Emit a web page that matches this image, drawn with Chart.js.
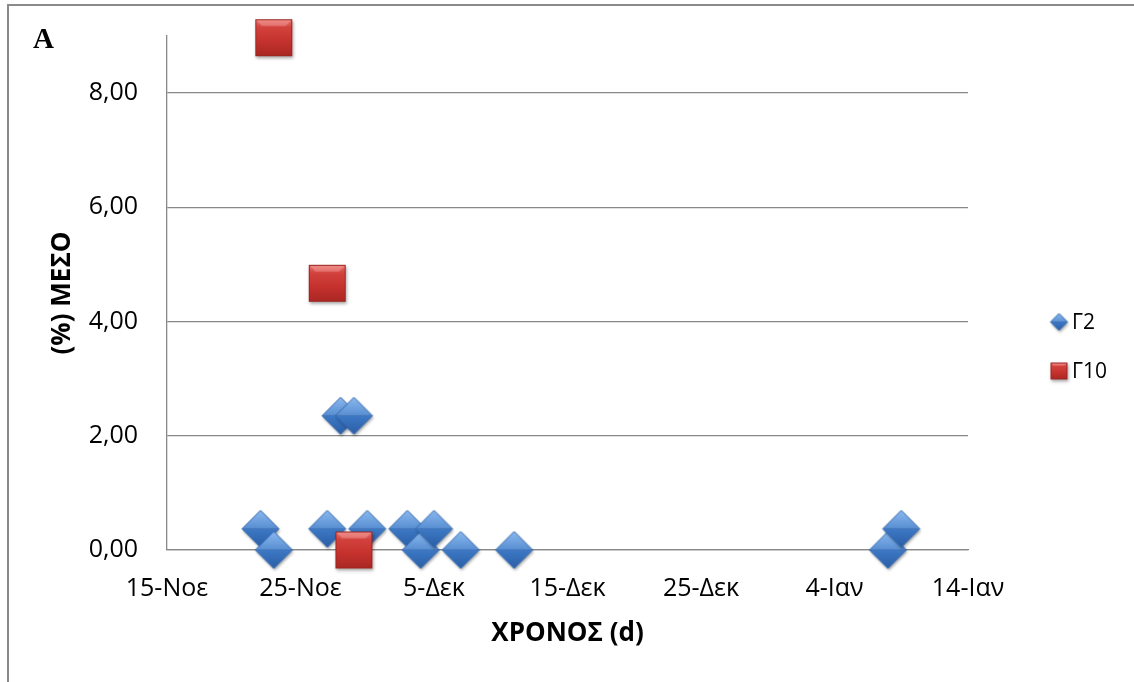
<!DOCTYPE html>
<html>
<head>
<meta charset="utf-8">
<script src="https://cdn.jsdelivr.net/npm/chart.js@4"></script>
<style>
  html, body { margin: 0; padding: 0; background: #ffffff; }
  #wrap { width: 1134px; height: 682px; }
</style>
</head>
<body>
<div id="wrap"><canvas id="chart" width="1134" height="682"></canvas></div>
<script>
// Day offsets are counted from 15 November.
const tickDays = [0, 10, 20, 30, 40, 50, 60];
const tickLabels = ['15-Νοε', '25-Νοε', '5-Δεκ', '15-Δεκ', '25-Δεκ', '4-Ιαν', '14-Ιαν'];
const yTicks = [0, 2, 4, 6, 8];

const g2Days   = [7, 8, 12, 13, 14, 15, 18, 19, 20, 22, 26, 54, 55];
const g2Values = [0.37, 0, 0.37, 2.35, 2.35, 0.37, 0.37, 0, 0.37, 0, 0, 0, 0.37];

const g10Days   = [8, 12, 14];
const g10Values = [8.97, 4.67, 0];

const seriesNames = ['Γ2', 'Γ10'];

const FONT = "'Open Sans', 'Noto Sans', sans-serif";

// Bevelled marker sprites
function makeDiamond(size) {
  const pad = 5;
  const c = document.createElement('canvas');
  c.width = size + pad * 2; c.height = size + pad * 2;
  const g = c.getContext('2d');
  const cx = c.width / 2, cy = c.height / 2, h = size / 2;
  g.save();
  g.shadowColor = 'rgba(0,0,0,0.35)';
  g.shadowBlur = 3; g.shadowOffsetX = 1; g.shadowOffsetY = 2;
  g.beginPath();
  g.moveTo(cx, cy - h); g.lineTo(cx + h, cy); g.lineTo(cx, cy + h); g.lineTo(cx - h, cy); g.closePath();
  const grd = g.createLinearGradient(0, cy - h, 0, cy + h);
  grd.addColorStop(0, '#7fb2ee');
  grd.addColorStop(0.45, '#4a86d0');
  grd.addColorStop(0.55, '#3b76c2');
  grd.addColorStop(1, '#2b5ea6');
  g.fillStyle = grd; g.fill();
  g.restore();
  // facets
  g.beginPath();
  g.moveTo(cx - h, cy); g.lineTo(cx, cy - h); g.lineTo(cx + h, cy); g.closePath();
  g.fillStyle = 'rgba(255,255,255,0.10)'; g.fill();
  g.beginPath();
  g.moveTo(cx - h, cy); g.lineTo(cx + h, cy);
  g.strokeStyle = 'rgba(40,80,150,0.35)'; g.lineWidth = 1; g.stroke();
  g.beginPath();
  g.moveTo(cx, cy - h); g.lineTo(cx + h, cy); g.lineTo(cx, cy + h); g.lineTo(cx - h, cy); g.closePath();
  g.strokeStyle = '#3167ad'; g.lineWidth = 1; g.stroke();
  return c;
}

function makeSquare(size) {
  const pad = 5;
  const c = document.createElement('canvas');
  c.width = size + pad * 2; c.height = size + pad * 2;
  const g = c.getContext('2d');
  const x0 = pad, y0 = pad;
  g.save();
  g.shadowColor = 'rgba(0,0,0,0.35)';
  g.shadowBlur = 3; g.shadowOffsetX = 1; g.shadowOffsetY = 2;
  const grd = g.createLinearGradient(0, y0, 0, y0 + size);
  grd.addColorStop(0, '#e8736f');
  grd.addColorStop(0.22, '#d2423d');
  grd.addColorStop(0.6, '#c5322e');
  grd.addColorStop(1, '#a92723');
  g.fillStyle = grd;
  g.fillRect(x0, y0, size, size);
  g.restore();
  // top bevel highlight
  const hb = Math.max(2, size * 0.18);
  g.beginPath();
  g.moveTo(x0, y0); g.lineTo(x0 + size, y0); g.lineTo(x0 + size - hb, y0 + hb); g.lineTo(x0 + hb, y0 + hb); g.closePath();
  g.fillStyle = 'rgba(255,190,185,0.35)'; g.fill();
  g.strokeStyle = '#9b2521'; g.lineWidth = 1;
  g.strokeRect(x0 + 0.5, y0 + 0.5, size - 1, size - 1);
  return c;
}

const diamondBig = makeDiamond(37);
const squareBig = makeSquare(37);
const diamondSmall = makeDiamond(17);
const squareSmall = makeSquare(17);

const g2Points = g2Days.map((d, i) => ({ x: d, y: g2Values[i] }));
const g10Points = g10Days.map((d, i) => ({ x: d, y: g10Values[i] }));

// White page, outer frame and panel letter
const framePlugin = {
  id: 'frame',
  beforeDraw(chart) {
    const ctx = chart.ctx;
    ctx.save();
    ctx.fillStyle = '#ffffff';
    ctx.fillRect(0, 0, chart.width, chart.height);
    ctx.strokeStyle = '#8a8a8a';
    ctx.lineWidth = 2;
    ctx.beginPath();
    ctx.moveTo(chart.width, 5);
    ctx.lineTo(8, 5);
    ctx.lineTo(8, chart.height);
    ctx.stroke();
    ctx.fillStyle = '#000000';
    ctx.font = "bold 29px 'Liberation Serif', 'Times New Roman', serif";
    ctx.textBaseline = 'alphabetic';
    ctx.textAlign = 'left';
    ctx.fillText('A', 33, 48);
    ctx.restore();
  }
};

// Legend at the right of the plot
const legendPlugin = {
  id: 'sideLegend',
  afterDraw(chart) {
    const ctx = chart.ctx;
    const icons = [diamondSmall, squareSmall];
    const rows = [322, 371];
    ctx.save();
    ctx.font = '21px ' + FONT;
    ctx.fillStyle = '#000000';
    ctx.textBaseline = 'middle';
    ctx.textAlign = 'left';
    chart.data.datasets.forEach((ds, i) => {
      const img = icons[i];
      ctx.drawImage(img, 1059 - img.width / 2, rows[i] - img.height / 2);
      ctx.fillText(ds.label, 1072, rows[i] + 1);
    });
    ctx.restore();
  }
};

new Chart(document.getElementById('chart'), {
  type: 'scatter',
  data: {
    datasets: [
      {
        label: seriesNames[0],
        data: g2Points,
        pointStyle: diamondBig,
        pointRadius: 18,
        pointHoverRadius: 18,
        clip: false,
        order: 1
      },
      {
        label: seriesNames[1],
        data: g10Points,
        pointStyle: squareBig,
        pointRadius: 18,
        pointHoverRadius: 18,
        clip: false,
        order: 0
      }
    ]
  },
  options: {
    responsive: false,
    animation: false,
    layout: { padding: { top: 36, right: 166, bottom: 0, left: 0 } },
    plugins: {
      legend: { display: false },
      tooltip: { enabled: false }
    },
    scales: {
      x: {
        type: 'linear',
        min: tickDays[0],
        max: tickDays[tickDays.length - 1],
        afterBuildTicks(scale) { scale.ticks = tickDays.map(v => ({ value: v })); },
        afterFit(scale) { scale.height = 132; scale.paddingLeft = 0; scale.paddingRight = 0; },
        grid: { display: false, drawTicks: false },
        border: { display: true, color: '#888888', width: 1.3 },
        ticks: {
          padding: 24,
          color: '#000000',
          font: { family: FONT, size: 25 },
          maxRotation: 0,
          autoSkip: false,
          callback(value) {
            const i = tickDays.indexOf(value);
            return i >= 0 ? tickLabels[i] : '';
          }
        },
        title: {
          display: true,
          text: 'ΧΡΟΝΟΣ (d)',
          color: '#000000',
          font: { family: FONT, size: 26, weight: 'bold' },
          padding: { top: 0, bottom: 33 }
        }
      },
      y: {
        type: 'linear',
        min: 0,
        max: 9,
        afterBuildTicks(scale) { scale.ticks = yTicks.map(v => ({ value: v })); },
        afterFit(scale) { scale.width = 167; scale.paddingTop = 0; scale.paddingBottom = 0; },
        grid: { color: '#888888', lineWidth: 1.3, drawTicks: false },
        border: { display: true, color: '#888888', width: 1.3 },
        ticks: {
          padding: 29,
          color: '#000000',
          font: { family: FONT, size: 25 },
          callback(value) { return value.toFixed(2).replace('.', ','); }
        },
        title: {
          display: true,
          text: '(%) ΜΕΣΟ',
          color: '#000000',
          font: { family: FONT, size: 26, weight: 'bold' },
          padding: { top: 47, bottom: 0 }
        }
      }
    }
  },
  plugins: [framePlugin, legendPlugin]
});
</script>
</body>
</html>
